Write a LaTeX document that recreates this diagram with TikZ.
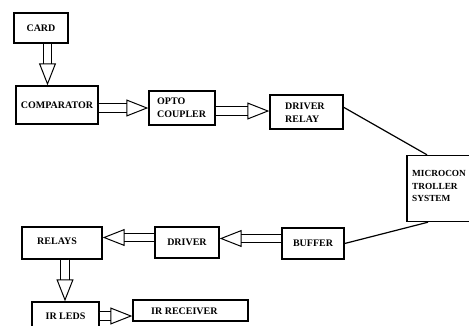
\documentclass[tikz,border=0pt]{standalone}
\usepackage{fontspec}
\setmainfont{Liberation Serif}
\usetikzlibrary{arrows.meta}
\tikzset{
  blk/.style={draw, line width=1.4pt, minimum height=#1, inner sep=0pt, font=\bfseries\fontsize{10}{13}\selectfont},
  blk/.default=30pt,
  txtl/.style={align=left, anchor=west, inner sep=0pt, font=\bfseries\fontsize{10}{13}\selectfont},
  bigarrow/.style={double, double distance=7.5pt, line width=1pt,
    -{Triangle[open, length=22pt, width=17pt, line width=1pt]}}
}
\begin{document}
\begin{tikzpicture}[x=1pt,y=-1pt]
\clip (0,0) rectangle (469,325);
\node[blk=30pt, minimum width=54pt] (card) at (41,28) {CARD};
\node[blk=38pt, minimum width=82pt] (comp) at (57,105) {COMPARATOR};
\node[blk=34pt, minimum width=66pt] (opto) at (182,108) {};
\node[txtl] at (157,107.5) {OPTO\\COUPLER};
\node[blk=34pt, minimum width=73pt] (drvrelay) at (306.5,112) {};
\node[txtl] at (285,113) {DRIVER\\RELAY};
\node[blk=66pt, minimum width=90pt] (micro) at (452,188.5) {};
\node[txtl, font=\bfseries\fontsize{9.3}{12.5}\selectfont] at (412,186) {MICROCON\\TROLLER\\SYSTEM};
\node[blk=31pt, minimum width=62pt] (buffer) at (313,243.5) {BUFFER};
\node[blk=31pt, minimum width=64pt] (driver) at (187,242.5) {DRIVER};
\node[blk=32pt, minimum width=80pt] (relays) at (62,243) {};
\node[txtl] at (37,241) {RELAYS};
\node[blk=28pt, minimum width=67pt] (irleds) at (65.5,316) {IR LEDS};
\node[blk=21pt, minimum width=115pt] (irrecv) at (190.5,310.5) {};
\node[txtl] at (151,311) {IR RECEIVER};
\draw[bigarrow] ([xshift=6.5pt]card.south) -- ([xshift=6.5pt]card.south |- comp.north);
\draw[bigarrow] (opto.west -| comp.east) -- (opto.west);
\draw[bigarrow] ([yshift=1pt]drvrelay.west -| opto.east) -- ([yshift=1pt]drvrelay.west);
\draw[line width=1.2pt] (drvrelay.north east) ++(0,13) -- ([xshift=-25pt]micro.north);
\draw[line width=1.2pt] ([xshift=-24pt]micro.south) -- (buffer.east);
\draw[bigarrow] ([yshift=5pt]buffer.west) -- ([yshift=5pt]buffer.west -| driver.east);
\draw[bigarrow] ([yshift=5pt]driver.west) -- ([yshift=5pt]driver.west -| relays.east);
\draw[bigarrow] ([xshift=3pt]relays.south) -- ([xshift=3pt]relays.south |- irleds.north);
\draw[bigarrow] (irleds.east) -- (irleds.east -| irrecv.west);
\end{tikzpicture}
\end{document}
